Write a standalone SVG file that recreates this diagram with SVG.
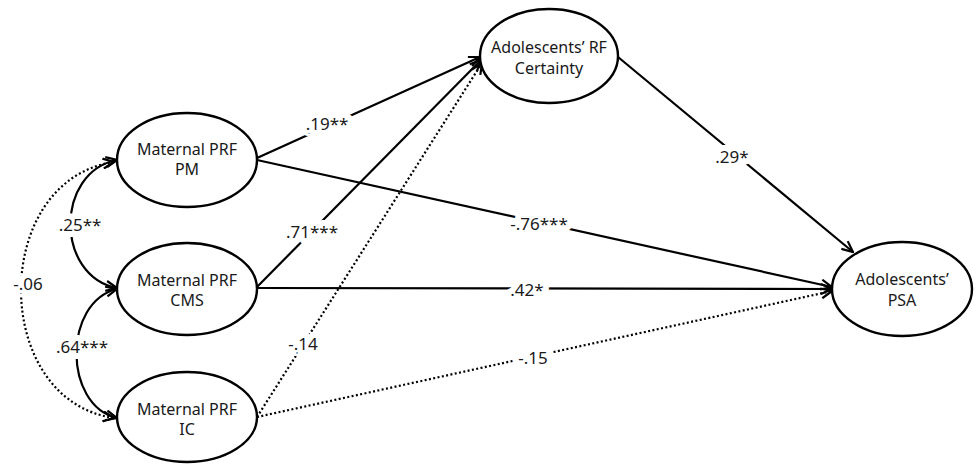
<svg xmlns="http://www.w3.org/2000/svg" width="977" height="464" viewBox="0 0 977 464">
<style>
  .node ellipse { fill: #fff; stroke: #000; stroke-width: 2.4; }
  .node text { font-family: "Noto Sans", "Liberation Sans", sans-serif; font-size: 16px; fill: #1a1a1a; text-anchor: middle; }
  .edge { fill: none; stroke: #000; stroke-width: 2.2; }
  .dot { stroke-dasharray: 2 2.4; stroke-width: 2.2; }
  .lbl { font-family: "Noto Sans", "Liberation Sans", sans-serif; font-size: 17px; fill: #1a1a1a; text-anchor: middle; stroke: #fff; stroke-width: 12; stroke-linejoin: round; paint-order: stroke; }
</style>
<defs>
  <marker id="arr" viewBox="0 0 13 12" markerWidth="13" markerHeight="12" refX="12" refY="6" orient="auto" markerUnits="userSpaceOnUse">
    <path d="M1,1 L12,6 L1,11" fill="none" stroke="#000" stroke-width="2.2"/>
  </marker>
  <marker id="arrs" viewBox="0 0 13 12" markerWidth="13" markerHeight="12" refX="12" refY="6" orient="auto-start-reverse" markerUnits="userSpaceOnUse">
    <path d="M1,1 L12,6 L1,11" fill="none" stroke="#000" stroke-width="2.2"/>
  </marker>
</defs>
<rect width="977" height="464" fill="#fff"/>
<g id="connectors">
  <path class="edge" d="M257,158 L480,57" marker-end="url(#arr)"/>
  <path class="edge" d="M257,160 L832,287" marker-end="url(#arr)"/>
  <path class="edge" d="M257,287 L481,60" marker-end="url(#arr)"/>
  <path class="edge" d="M257,288 L832,289" marker-end="url(#arr)"/>
  <path class="edge dot" d="M257,417 L482,63" marker-end="url(#arr)"/>
  <path class="edge dot" d="M257,417 L832,291" marker-end="url(#arr)"/>
  <path class="edge" d="M618,57 L853,252" marker-end="url(#arr)"/>
  <path class="edge" d="M117,160 C55,172 55,276 117,288" marker-start="url(#arrs)" marker-end="url(#arr)"/>
  <path class="edge" d="M117,289 C63,302 63,405 117,418" marker-start="url(#arrs)" marker-end="url(#arr)"/>
  <path class="edge dot" d="M114,162 C-10,180 -10,400 114,418" marker-start="url(#arrs)" marker-end="url(#arr)"/>
  <text class="lbl" x="327" y="130">.19**</text>
  <text class="lbl" x="539" y="230">-.76***</text>
  <text class="lbl" x="312" y="238">.71***</text>
  <text class="lbl" x="527" y="296">.42*</text>
  <text class="lbl" x="303" y="350">-.14</text>
  <text class="lbl" x="533" y="364">-.15</text>
  <text class="lbl" x="732" y="163">.29*</text>
  <text class="lbl" x="80" y="231">.25**</text>
  <text class="lbl" x="82" y="353">.64***</text>
  <text class="lbl" x="28" y="290">-.06</text>
</g>
<g id="pm" class="node">
  <ellipse cx="187" cy="160" rx="70" ry="47"/>
  <text x="187" y="155">Maternal PRF</text>
  <text x="187" y="175">PM</text>
</g>
<g id="cms" class="node">
  <ellipse cx="187" cy="289" rx="70" ry="46"/>
  <text x="187" y="286">Maternal PRF</text>
  <text x="187" y="306">CMS</text>
</g>
<g id="ic" class="node">
  <ellipse cx="187" cy="417" rx="70" ry="45"/>
  <text x="187" y="415">Maternal PRF</text>
  <text x="187" y="435">IC</text>
</g>
<g id="rf" class="node">
  <ellipse cx="549" cy="56" rx="69" ry="47"/>
  <text x="549" y="53">Adolescents’ RF</text>
  <text x="549" y="74">Certainty</text>
</g>
<g id="psa" class="node">
  <ellipse cx="902" cy="289" rx="70" ry="47"/>
  <text x="902" y="285">Adolescents’</text>
  <text x="902" y="306">PSA</text>
</g>
</svg>
